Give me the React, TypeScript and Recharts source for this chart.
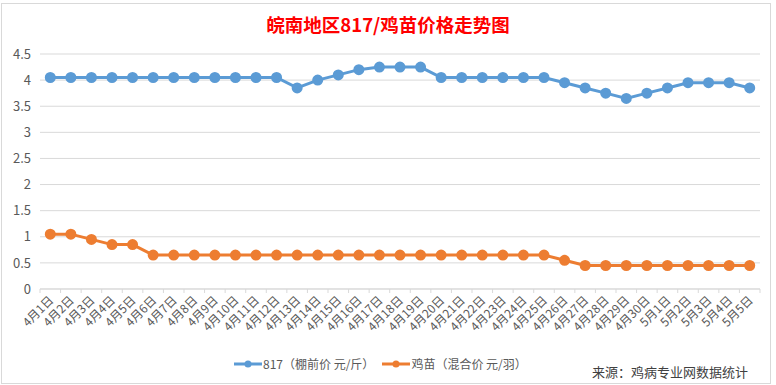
import React from 'react';
import { LineChart, Line, XAxis, YAxis, CartesianGrid } from 'recharts';

const dates = [
  '4月1日', '4月2日', '4月3日', '4月4日', '4月5日', '4月6日', '4月7日', '4月8日', '4月9日', '4月10日',
  '4月11日', '4月12日', '4月13日', '4月14日', '4月15日', '4月16日', '4月17日', '4月18日', '4月19日', '4月20日',
  '4月21日', '4月22日', '4月23日', '4月24日', '4月25日', '4月26日', '4月27日', '4月28日', '4月29日', '4月30日',
  '5月1日', '5月2日', '5月3日', '5月4日', '5月5日',
];

const price817 = [
  4.05, 4.05, 4.05, 4.05, 4.05, 4.05, 4.05, 4.05, 4.05, 4.05,
  4.05, 4.05, 3.85, 4.0, 4.1, 4.2, 4.25, 4.25, 4.25, 4.05,
  4.05, 4.05, 4.05, 4.05, 4.05, 3.95, 3.85, 3.75, 3.65, 3.75,
  3.85, 3.95, 3.95, 3.95, 3.85,
];

const chickPrice = [
  1.05, 1.05, 0.95, 0.85, 0.85, 0.65, 0.65, 0.65, 0.65, 0.65,
  0.65, 0.65, 0.65, 0.65, 0.65, 0.65, 0.65, 0.65, 0.65, 0.65,
  0.65, 0.65, 0.65, 0.65, 0.65, 0.55, 0.45, 0.45, 0.45, 0.45,
  0.45, 0.45, 0.45, 0.45, 0.45,
];

const yTicks = [0, 0.5, 1, 1.5, 2, 2.5, 3, 3.5, 4, 4.5];

const data = dates.map((d, i) => ({ date: d, a: price817[i], b: chickPrice[i] }));

const FONT = '"Noto Sans CJK SC", "Noto Sans", sans-serif';
const BLUE = '#5b9bd5';
const ORANGE = '#ed7d31';
const HALF_BAND = 720 / dates.length / 2;

const DateTick = (props: any) => {
  const { x, y, payload, index } = props;
  const last = index === dates.length - 1;
  const ay = y - 8;
  return (
    <g>
      <line x1={x - HALF_BAND} y1={ay} x2={x - HALF_BAND} y2={ay + 4} stroke="#d9d9d9" />
      {last && <line x1={x + HALF_BAND} y1={ay} x2={x + HALF_BAND} y2={ay + 4} stroke="#d9d9d9" />}
      <text
        x={x + 4}
        y={ay + 12}
        textAnchor="end"
        fontSize={12}
        fill="#595959"
        fontFamily={FONT}
        transform={`rotate(-45 ${x + 4} ${ay + 12})`}
      >
        {payload.value}
      </text>
    </g>
  );
};

const legendItems = [
  { label: '817（棚前价 元/斤）', color: BLUE },
  { label: '鸡苗（混合价 元/羽）', color: ORANGE },
];

export default function App() {
  return (
    <div style={{ position: 'absolute', left: 0, top: 0, width: 776, height: 385, background: '#fff' }}>
      <div style={{ position: 'absolute', left: 1, top: 3, width: 768, height: 379, border: '1px solid #d9d9d9' }} />
      <div
        style={{
          position: 'absolute', left: 0, top: 11, width: 776, textAlign: 'center',
          fontFamily: FONT, fontSize: 18.5, fontWeight: 'bold', color: '#ff0000',
        }}
      >
        皖南地区817/鸡苗价格走势图
      </div>
      <div style={{ position: 'absolute', left: 0, top: 0 }}>
        <LineChart width={776} height={385} data={data} margin={{ top: 54, right: 16, bottom: 0, left: 0 }}>
          <CartesianGrid horizontal vertical={false} stroke="#d9d9d9" />
          <XAxis
            dataKey="date"
            interval={0}
            tick={<DateTick />}
            tickLine={false}
            axisLine={{ stroke: '#d9d9d9' }}
            tickSize={0}
            tickMargin={8}
            height={96}
            padding={{ left: HALF_BAND, right: HALF_BAND }}
          />
          <YAxis
            domain={[0, 4.5]}
            ticks={yTicks}
            interval={0}
            width={40}
            axisLine={false}
            tickLine={false}
            tickSize={0}
            tickMargin={9}
            tick={{ fontSize: 13, fill: '#595959', fontFamily: FONT }}
          />
          <Line dataKey="a" stroke={BLUE} strokeWidth={3} dot={{ r: 4, fill: BLUE, stroke: BLUE }} isAnimationActive={false} />
          <Line dataKey="b" stroke={ORANGE} strokeWidth={3} dot={{ r: 4, fill: ORANGE, stroke: ORANGE }} isAnimationActive={false} />
        </LineChart>
      </div>
      <div
        style={{
          position: 'absolute', left: 234, top: 355, display: 'flex', alignItems: 'center',
          fontFamily: FONT, fontSize: 12, color: '#595959',
        }}
      >
        {legendItems.map((it) => (
          <div key={it.label} style={{ display: 'flex', alignItems: 'center', marginRight: 8 }}>
            <svg width={28} height={10}>
              <line x1={0} y1={5} x2={28} y2={5} stroke={it.color} strokeWidth={3} />
              <circle cx={14} cy={5} r={3.5} fill={it.color} />
            </svg>
            <span style={{ marginLeft: 1 }}>{it.label}</span>
          </div>
        ))}
      </div>
      <div style={{ position: 'absolute', left: 592, top: 362, fontFamily: FONT, fontSize: 13, color: '#404040' }}>
        来源：鸡病专业网数据统计
      </div>
    </div>
  );
}
